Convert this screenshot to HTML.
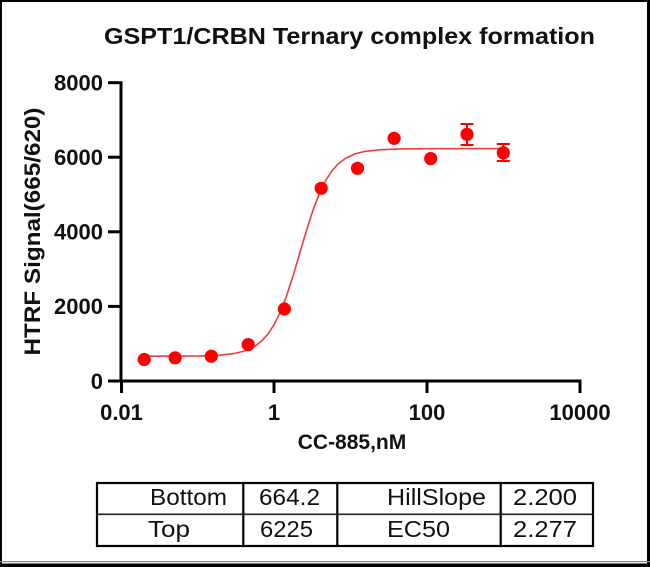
<!DOCTYPE html>
<html>
<head>
<meta charset="utf-8">
<style>
html,body{margin:0;padding:0;background:#fff;}
svg{display:block;}
text{font-family:"Liberation Sans",Arial,sans-serif;}
</style>
</head>
<body>
<svg width="650" height="567" viewBox="0 0 650 567" xmlns="http://www.w3.org/2000/svg">
  <rect x="0" y="0" width="650" height="567" fill="#fff"/>
  <!-- outer frame -->
  <rect x="0" y="0" width="2" height="567" fill="#000"/>
  <rect x="0" y="0" width="650" height="2" fill="#000"/>
  <rect x="647" y="0" width="3" height="567" fill="#000"/>
  <rect x="0" y="561" width="650" height="1.2" fill="#888"/>
  <rect x="0" y="563.5" width="650" height="3.5" fill="#000"/>

  <!-- title -->
  <text x="349.5" y="44" font-size="23" font-weight="bold" text-anchor="middle" fill="#111" textLength="491" lengthAdjust="spacingAndGlyphs">GSPT1/CRBN Ternary complex formation</text>

  <!-- axes -->
  <g stroke="#000" stroke-width="3" fill="none">
    <line x1="121" y1="81.2" x2="121" y2="382.5"/>
    <line x1="119.5" y1="381" x2="581.5" y2="381"/>
    <!-- y ticks -->
    <line x1="108" y1="82.7" x2="121" y2="82.7"/>
    <line x1="108" y1="157.2" x2="121" y2="157.2"/>
    <line x1="108" y1="231.8" x2="121" y2="231.8"/>
    <line x1="108" y1="306.4" x2="121" y2="306.4"/>
    <line x1="108" y1="381" x2="121" y2="381"/>
    <!-- x ticks -->
    <line x1="121.5" y1="381" x2="121.5" y2="393"/>
    <line x1="274" y1="381" x2="274" y2="393"/>
    <line x1="427" y1="381" x2="427" y2="393"/>
    <line x1="580" y1="381" x2="580" y2="393"/>
  </g>

  <!-- y tick labels -->
  <g font-size="22" font-weight="bold" fill="#111" text-anchor="end">
    <text x="103" y="90.5">8000</text>
    <text x="103" y="165">6000</text>
    <text x="103" y="239.6">4000</text>
    <text x="103" y="314.2">2000</text>
    <text x="103" y="388.8">0</text>
  </g>
  <!-- x tick labels -->
  <g font-size="22" font-weight="bold" fill="#111" text-anchor="middle">
    <text x="121.5" y="420">0.01</text>
    <text x="274" y="420">1</text>
    <text x="427" y="420">100</text>
    <text x="580" y="420">10000</text>
  </g>

  <!-- axis titles -->
  <text x="352" y="449" font-size="21" font-weight="bold" text-anchor="middle" fill="#111">CC-885,nM</text>
  <text transform="translate(40,231.5) rotate(-90)" font-size="22" font-weight="bold" text-anchor="middle" fill="#111" textLength="248" lengthAdjust="spacingAndGlyphs">HTRF Signal(665/620)</text>

  <!-- fitted curve -->
  <polyline fill="none" stroke="#f03c3c" stroke-width="1.6" stroke-linejoin="round"
    points="144,356.2 200,355.9 220,355.2 235,353.4 245,350.9 255,346.2 262,340.7 268,334.0 274,324.8 280,312.7 286,297.4 292,279.3 300,252.4 308,225.5 314,207.4 320,192.1 326,180.0 332,170.8 338,164.0 345,158.6 355,153.9 365,151.4 380,149.7 400,148.9 430,148.7 503,148.6"/>

  <!-- error bars -->
  <g stroke="#ff0000" stroke-width="2" fill="none">
    <line x1="467" y1="124" x2="467" y2="145"/>
    <line x1="460.5" y1="124" x2="473.5" y2="124"/>
    <line x1="460.5" y1="145" x2="473.5" y2="145"/>
    <line x1="503.3" y1="144" x2="503.3" y2="161"/>
    <line x1="496.8" y1="144" x2="509.8" y2="144"/>
    <line x1="496.8" y1="161" x2="509.8" y2="161"/>
  </g>

  <!-- data points -->
  <g fill="#ff0000">
    <circle cx="144.2" cy="359.5" r="6.6"/>
    <circle cx="175.1" cy="357.8" r="6.6"/>
    <circle cx="211.3" cy="356.2" r="6.6"/>
    <circle cx="248.2" cy="344.6" r="6.6"/>
    <circle cx="284.4" cy="309" r="6.6"/>
    <circle cx="321.2" cy="188.3" r="6.6"/>
    <circle cx="357.5" cy="168.3" r="6.6"/>
    <circle cx="394.1" cy="138.3" r="6.6"/>
    <circle cx="430.7" cy="158.6" r="6.6"/>
    <circle cx="467" cy="134.3" r="6.6"/>
    <circle cx="503.3" cy="152.8" r="6.6"/>
  </g>

  <!-- table -->
  <g stroke="#000" fill="none">
    <rect x="97" y="483" width="496" height="63" stroke-width="2.2"/>
    <line x1="97" y1="514.3" x2="593" y2="514.3" stroke-width="1.6" stroke="#222"/>
    <line x1="243.3" y1="483" x2="243.3" y2="546" stroke-width="2.2"/>
    <line x1="337.3" y1="483" x2="337.3" y2="546" stroke-width="2.2"/>
    <line x1="500.7" y1="483" x2="500.7" y2="546" stroke-width="2.2"/>
  </g>
  <g font-size="23" fill="#111">
    <text x="150" y="505" textLength="77" lengthAdjust="spacingAndGlyphs">Bottom</text>
    <text x="259" y="505" textLength="61" lengthAdjust="spacingAndGlyphs">664.2</text>
    <text x="387" y="505" textLength="99" lengthAdjust="spacingAndGlyphs">HillSlope</text>
    <text x="513" y="505" textLength="64" lengthAdjust="spacingAndGlyphs">2.200</text>
    <text x="148" y="537" textLength="42" lengthAdjust="spacingAndGlyphs">Top</text>
    <text x="260" y="537" textLength="53" lengthAdjust="spacingAndGlyphs">6225</text>
    <text x="387" y="537" textLength="63" lengthAdjust="spacingAndGlyphs">EC50</text>
    <text x="513" y="537" textLength="64" lengthAdjust="spacingAndGlyphs">2.277</text>
  </g>
</svg>
</body>
</html>
